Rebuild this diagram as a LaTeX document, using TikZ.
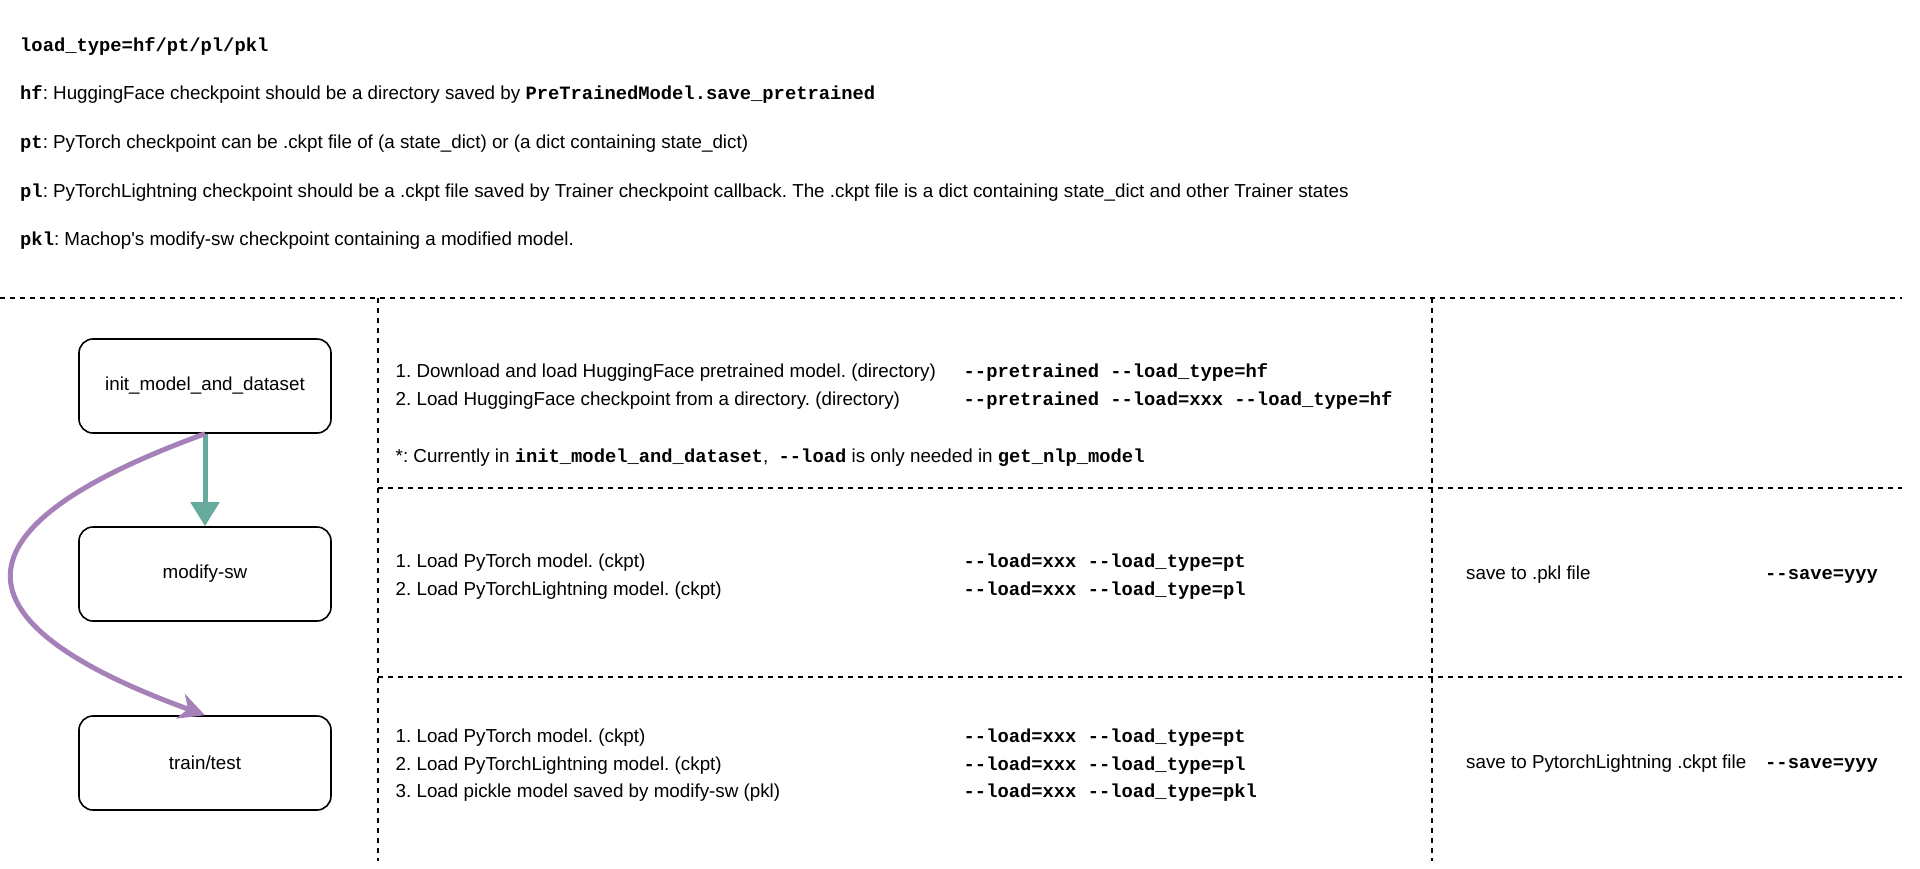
\documentclass[tikz,border=0pt]{standalone}
\usepackage{fontspec}
\setmainfont{Liberation Sans}[Ligatures=TeXOff]
\setmonofont{Liberation Mono}
\usetikzlibrary{arrows.meta}
\definecolor{tealarrow}{HTML}{67AB9F}
\definecolor{purparrow}{HTML}{A680B8}
\newcommand{\cm}[1]{{\ttfamily\bfseries #1}}
\frenchspacing
\begin{document}
\begin{tikzpicture}[x=1pt,y=-1pt,
  every node/.style={font=\fontsize{18.8}{22}\selectfont},
  txt/.style={anchor=base west, inner sep=0pt},
  dline/.style={draw=black, line width=1.3pt, dash pattern=on 5pt off 5pt},
  box/.style={draw=black, line width=1.6pt, rounded corners=14pt, minimum width=252pt, minimum height=94pt, inner sep=0pt},
  tarrow/.style={draw=tealarrow, line width=5pt, -{Triangle[length=24pt,width=28pt]}},
  parrow/.style={draw=purparrow, line width=5pt, -{Stealth[length=26pt,width=26pt,inset=8pt]}}]
\fill[white] (0,0) rectangle (1920,868);
\useasboundingbox (0,0) rectangle (1920,868);

% header notes
\node[txt] (t1) at (20,51.5) {\cm{load\_type=hf/pt/pl/pkl}};
\node[txt] (t2) at (20,99.5) {\cm{hf}: HuggingFace checkpoint should be a directory saved by \cm{PreTrainedModel.save\_pretrained}};
\node[txt] (t3) at (20,148.5) {\cm{pt}: PyTorch checkpoint can be .ckpt file of (a state\_dict) or (a dict containing state\_dict)};
\node[txt] (t4) at (20,197.5) {\cm{pl}: PyTorchLightning checkpoint should be a .ckpt file saved by Trainer checkpoint callback. The .ckpt file is a dict containing state\_dict and other Trainer states};
\node[txt] (t5) at (20,245.5) {\cm{pkl}: Machop's modify-sw checkpoint containing a modified model.};

% table lines
\draw[dline] (0,298) -- (1902,298);
\draw[dline] (378,488) -- (1902,488);
\draw[dline] (378,677) -- (1902,677);
\draw[dline] (378,298) -- (378,861);
\draw[dline] (1432,298) -- (1432,861);

% flow boxes
\node[box] (init) at (205,386) {init\_model\_and\_dataset};
\node[box] (mod) at (205,574) {modify-sw};
\node[box] (train) at (205,763) {train/test};

\draw[tarrow] (init.south) -- (mod.north);
\draw[parrow] (init.south) .. controls (-52,527) and (-52,622) .. (train.north);

% row 1
\node[txt] (r1a) at (395.5,377.5) {1. Download and load HuggingFace pretrained model. (directory)};
\node[txt] (r1ac) at (963.5,377.5) {\cm{-{}-pretrained -{}-load\_type=hf}};
\node[txt] (r1b) at (395.5,405.5) {2. Load HuggingFace checkpoint from a directory. (directory)};
\node[txt] (r1bc) at (963.5,405.5) {\cm{-{}-pretrained -{}-load=xxx -{}-load\_type=hf}};
\node[txt] (r1n) at (395.5,462) {*: Currently in \cm{init\_model\_and\_dataset},\ \ \cm{-{}-load} is only needed in \cm{get\_nlp\_model}};

% row 2
\node[txt] (r2a) at (395.5,567.5) {1. Load PyTorch model. (ckpt)};
\node[txt] (r2ac) at (963.5,567.5) {\cm{-{}-load=xxx -{}-load\_type=pt}};
\node[txt] (r2b) at (395.5,595.5) {2. Load PyTorchLightning model. (ckpt)};
\node[txt] (r2bc) at (963.5,595.5) {\cm{-{}-load=xxx -{}-load\_type=pl}};
\node[txt] (r2s) at (1466,579.5) {save to .pkl file};
\node[txt] (r2sc) at (1765,579.5) {\cm{-{}-save=yyy}};

% row 3
\node[txt] (r3a) at (395.5,742.5) {1. Load PyTorch model. (ckpt)};
\node[txt] (r3ac) at (963.5,742.5) {\cm{-{}-load=xxx -{}-load\_type=pt}};
\node[txt] (r3b) at (395.5,770.5) {2. Load PyTorchLightning model. (ckpt)};
\node[txt] (r3bc) at (963.5,770.5) {\cm{-{}-load=xxx -{}-load\_type=pl}};
\node[txt] (r3c) at (395.5,797.5) {3. Load pickle model saved by modify-sw (pkl)};
\node[txt] (r3cc) at (963.5,797.5) {\cm{-{}-load=xxx -{}-load\_type=pkl}};
\node[txt] (r3s) at (1466,768.5) {save to PytorchLightning .ckpt file};
\node[txt] (r3sc) at (1765,768.5) {\cm{-{}-save=yyy}};
\end{tikzpicture}
\end{document}
